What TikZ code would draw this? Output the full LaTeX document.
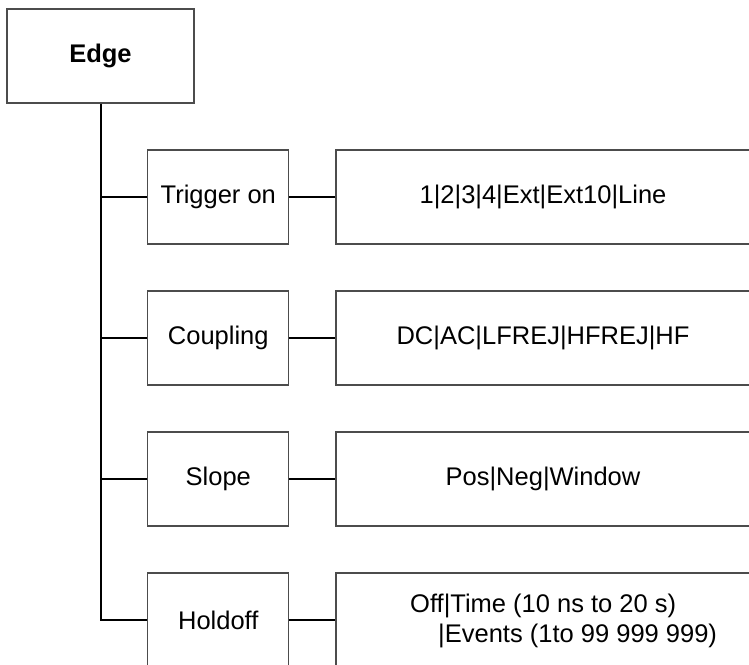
\documentclass[tikz,border=0pt]{standalone}
\usepackage{fontspec}
\setmainfont{Liberation Sans}
\begin{document}
\begin{tikzpicture}[x=1pt,y=-1pt,
  every node/.style={font=\fontsize{25.5}{30}\selectfont},
  box/.style={draw=black!70, line width=1.2pt, rectangle, inner sep=0pt, minimum height=94pt},
  topbox/.style={box, minimum width=187pt, font=\fontsize{25.5}{30}\selectfont\bfseries},
  labbox/.style={box, minimum width=141pt},
  valbox/.style={box, minimum width=414pt},
  conn/.style={draw=black, line width=2pt}]
\useasboundingbox (0,0) rectangle (749,664);
\clip (0,0) rectangle (749,664);
\node[topbox] (edge) at (100.5,56) {Edge};
\node[labbox] (l1) at (218.3,197) {Trigger on};
\node[labbox] (l2) at (218.3,338) {Coupling};
\node[labbox] (l3) at (218.3,479) {Slope};
\node[labbox] (l4) at (218.3,620) {Holdoff};
\node[valbox] (v1) at (543,197) {1|2|3|4|Ext|Ext10|Line};
\node[valbox] (v2) at (543,338) {DC|AC|LFREJ|HFREJ|HF};
\node[valbox] (v3) at (543,479) {Pos|Neg|Window};
\node[valbox] (v4) at (543,620) {};
\node[anchor=base west, align=left, inner sep=0pt] (t4) at (410,642)
  {Off|Time (10 ns to 20 s)\\\hspace*{28pt}|Events (1to 99 999 999)};
\coordinate (j1) at (edge.south |- l1.west);
\coordinate (j2) at (edge.south |- l2.west);
\coordinate (j3) at (edge.south |- l3.west);
\draw[conn] (edge.south) |- (l4.west);
\draw[conn] (j1) -- (l1.west);
\draw[conn] (j2) -- (l2.west);
\draw[conn] (j3) -- (l3.west);
\draw[conn] (l1.east) -- (v1.west);
\draw[conn] (l2.east) -- (v2.west);
\draw[conn] (l3.east) -- (v3.west);
\draw[conn] (l4.east) -- (v4.west);
\end{tikzpicture}
\end{document}
